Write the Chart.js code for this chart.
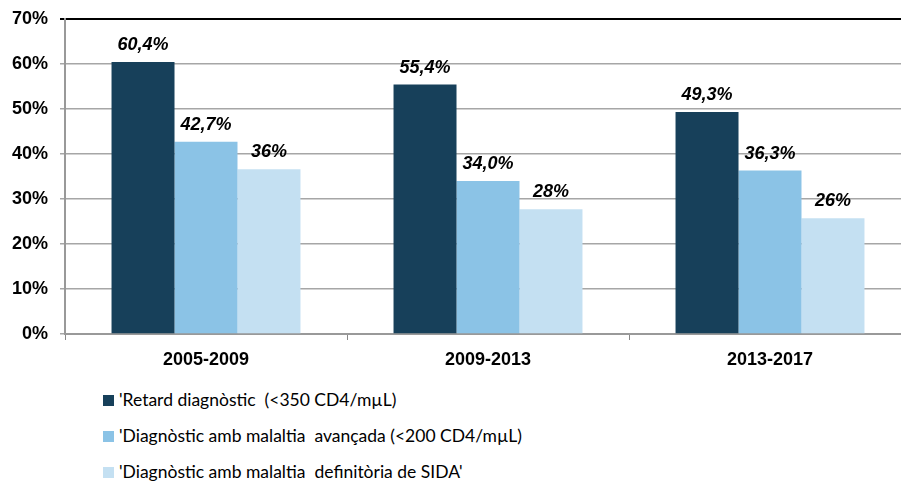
<!DOCTYPE html>
<html lang="ca">
<head>
    <meta charset="UTF-8">
    <title>Retard diagnòstic</title>
    <script src="https://cdn.jsdelivr.net/npm/chart.js@4.4.1/dist/chart.umd.min.js"></script>
    <style>
        body { margin: 0; background: #fff; }
        .wrap { position: relative; width: 901px; height: 481px; overflow: hidden; }
        .chart-box { position: absolute; left: 0; top: -4px; width: 912px; height: 380px; }
        .legend { position: absolute; left: 103px; top: 389px; font-family: Lato, 'Open Sans', sans-serif; font-size: 17.5px; color: #000; }
        .legend div { height: 36px; display: flex; align-items: flex-start; white-space: pre; line-height: 22px; }
        .legend span.box { display: inline-block; width: 11px; height: 11px; margin: 6px 5px 0 0; }
    </style>
</head>
<body>
<div class="wrap">
    <div class="chart-box"><canvas id="chart"></canvas></div>
    <div class="legend" id="legend"></div>
</div>
<script>
    // dades
    const periodes = ['2005-2009', '2009-2013', '2013-2017'];
    const series = [
        "'Retard diagnòstic  (<350 CD4/mµL)",
        "'Diagnòstic amb malaltia  avançada (<200 CD4/mµL)",
        "'Diagnòstic amb malaltia  definitòria de SIDA'"
    ];
    const retard = [60.4, 55.4, 49.3];
    const avancada = [42.7, 34.0, 36.3];
    const sida = [36.6, 27.7, 25.7];
    const etiquetes = [
        ['60,4%', '55,4%', '49,3%'],
        ['42,7%', '34,0%', '36,3%'],
        ['36%', '28%', '26%']
    ];
    const colors = ['#17405a', '#8bc3e6', '#c4e0f2'];

    // etiquetes sobre les barres
    const valueLabels = {
        id: 'valueLabels',
        afterDatasetsDraw(chart) {
            const ctx = chart.ctx;
            ctx.save();
            ctx.font = 'italic bold 18px "Liberation Sans", Arial, sans-serif';
            ctx.fillStyle = '#000';
            ctx.textAlign = 'center';
            ctx.textBaseline = 'middle';
            chart.data.datasets.forEach((ds, i) => {
                chart.getDatasetMeta(i).data.forEach((bar, j) => {
                    ctx.fillText(etiquetes[i][j], bar.x, bar.y - 17);
                });
            });
            ctx.restore();
        }
    };

    const datasets = [retard, avancada, sida].map((d, i) => ({
        label: series[i],
        data: d,
        backgroundColor: colors[i],
        borderWidth: 0,
        barPercentage: 1,
        categoryPercentage: 0.67
    }));

    new Chart(document.getElementById('chart'), {
        type: 'bar',
        data: { labels: periodes, datasets: datasets },
        options: {
            responsive: true,
            maintainAspectRatio: false,
            animation: false,
            layout: { padding: { top: 8, right: 1 } },
            plugins: { legend: { display: false }, tooltip: { enabled: false } },
            scales: {
                x: {
                    grid: { display: true, drawOnChartArea: false, offset: true, tickLength: 6, color: '#888' },
                    border: { color: '#999', width: 2 },
                    ticks: {
                        color: '#000',
                        padding: 9,
                        font: { family: '"Liberation Sans", Arial, sans-serif', size: 18, weight: 'bold' }
                    },
                    afterFit(scale) { scale.height = 42; }
                },
                y: {
                    min: 0,
                    max: 70,
                    ticks: {
                        stepSize: 10,
                        color: '#000',
                        padding: 12,
                        callback: v => v + '%',
                        font: { family: '"Liberation Sans", Arial, sans-serif', size: 18, weight: 'bold' }
                    },
                    grid: {
                        tickLength: 5,
                        color: c => c.tick && c.tick.value === 70 ? '#000' : '#a6a6a6',
                        lineWidth: c => c.tick && c.tick.value === 70 ? 2 : 1.5
                    },
                    border: { color: '#999', width: 2 },
                    afterFit(scale) { scale.width = 65; }
                }
            }
        },
        plugins: [valueLabels]
    });

    // llegenda
    const legend = document.getElementById('legend');
    series.forEach((s, i) => {
        const row = document.createElement('div');
        const box = document.createElement('span');
        box.className = 'box';
        box.style.background = colors[i];
        row.appendChild(box);
        row.appendChild(document.createTextNode(s));
        legend.appendChild(row);
    });
</script>
</body>
</html>
